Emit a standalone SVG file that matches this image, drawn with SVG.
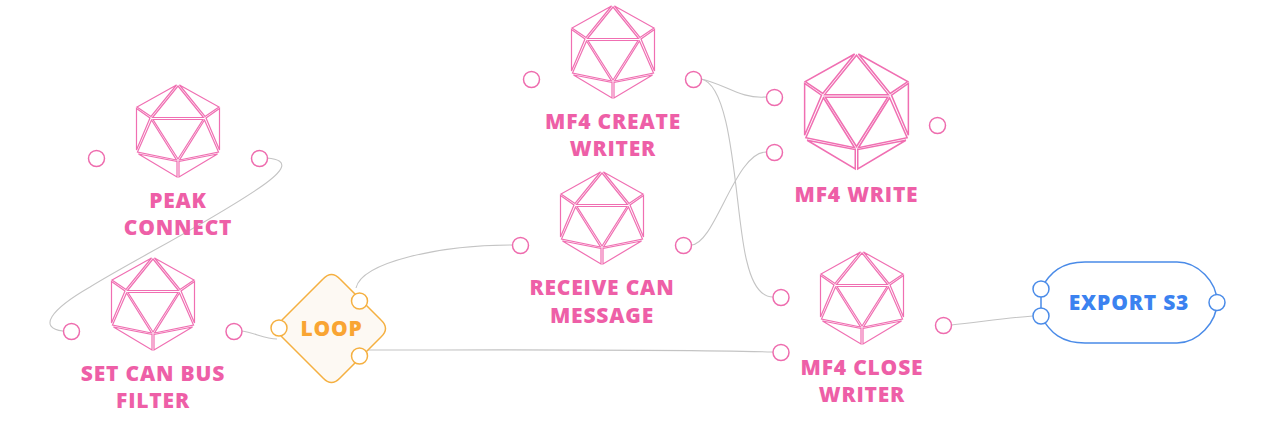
<svg xmlns="http://www.w3.org/2000/svg" width="1288" height="430" viewBox="0 0 1288 430">
<style>
.bg{fill:#fff}
.t{font-family:"Open Sans","DejaVu Sans",sans-serif;font-weight:800;font-size:21px;letter-spacing:0.8px;text-anchor:middle}
.pk{fill:#ee5fa7}.or{fill:#f9a533}.bl{fill:#3b82f0}
.f{fill:none;stroke:#f06fb2;stroke-width:1.2;stroke-linejoin:miter}
.p{fill:#fff;stroke-width:1.5}
.pp{stroke:#ee6cae}.po{stroke:#f5b041}.pb{stroke:#4a8be8}
.c{fill:none;stroke:#c4c4c4;stroke-width:1.1}
</style>
<defs>
<g id="ico">
<polygon class="f" points="0,1 25.500,32.500 -25.500,32.500"/>
<polygon class="f" points="-1.500,0 -27,31.500 -41,22"/>
<polygon class="f" points="1.500,0 27,31.500 41,22"/>
<polygon class="f" points="-41.500,23.500 -28,33 -41.500,65"/>
<polygon class="f" points="41.500,23.500 28,33 41.500,65"/>
<polygon class="f" points="-25,34.500 25,34.500 0,74"/>
<polygon class="f" points="-26.500,35 -1.500,75 -40.500,67"/>
<polygon class="f" points="26.500,35 1.500,75 40.500,67"/>
<polygon class="f" points="-39.500,69 -1,76.500 -1,92"/>
<polygon class="f" points="39.500,69 1,76.500 1,92"/>
</g>
</defs>
<rect class="bg" width="1288" height="430"/>
<g id="connectors">
<path class="c" d="M267,158C292,160 282,172 262,186C210,222 130,262 90,287C50,310 38,328 63,331"/>
<path class="c" d="M242,331C255,333 265,339 277,339"/>
<path class="c" d="M356,288C362,262 440,245 512,245"/>
<path class="c" d="M367,350C480,350 660,349 773,352"/>
<path class="c" d="M701,79C725,84 740,99 766,97"/>
<path class="c" d="M701,79C735,85 735,220 747,262C752,283 760,297 773,297"/>
<path class="c" d="M691,245C715,245 735,152 766,152"/>
<path class="c" d="M951,325C980,322 1005,318 1033,316"/>
</g>
<g id="peak-connect">
<use href="#ico" x="178" y="85"/>
<circle class="p pp" cx="96.500" cy="158.500" r="8"/><circle class="p pp" cx="259.500" cy="158.500" r="8"/>
<text class="t pk" x="178" y="208">PEAK</text><text class="t pk" x="178" y="235">CONNECT</text>
</g>
<g id="set-can-bus-filter">
<use href="#ico" x="153" y="258"/>
<circle class="p pp" cx="71.500" cy="331.500" r="8"/><circle class="p pp" cx="234" cy="331.500" r="8"/>
<text class="t pk" x="153" y="381">SET CAN BUS</text><text class="t pk" x="153" y="408">FILTER</text>
</g>
<g id="loop">
<path d="M323,279Q331.500,270 340,279L381,320Q390,328.500 381,337L340,378Q331.500,387 323,378L282,337Q273,328.500 282,320Z" fill="#fdf9f3" stroke="#f5b041" stroke-width="1.5"/>
<circle class="p po" cx="279" cy="328" r="8"/><circle class="p po" cx="359.500" cy="301" r="8"/><circle class="p po" cx="359.500" cy="356" r="8"/>
<text class="t or" x="331.500" y="336">LOOP</text>
</g>
<g id="mf4-create-writer">
<use href="#ico" x="613" y="6"/>
<circle class="p pp" cx="531.500" cy="79.500" r="8"/><circle class="p pp" cx="693.500" cy="79.500" r="8"/>
<text class="t pk" x="613" y="129">MF4 CREATE</text><text class="t pk" x="613" y="156">WRITER</text>
</g>
<g id="receive-can-message">
<use href="#ico" x="602" y="172"/>
<circle class="p pp" cx="520.500" cy="245.500" r="8"/><circle class="p pp" cx="683.500" cy="245.500" r="8"/>
<text class="t pk" x="602" y="295">RECEIVE CAN</text><text class="t pk" x="602" y="323">MESSAGE</text>
</g>
<g id="mf4-write">
<use href="#ico" transform="translate(856.500 54) scale(1.25)"/>
<circle class="p pp" cx="774.500" cy="97.500" r="8"/><circle class="p pp" cx="774.500" cy="152.500" r="8"/><circle class="p pp" cx="937.500" cy="125.500" r="8"/>
<text class="t pk" x="856.500" y="202">MF4 WRITE</text>
</g>
<g id="mf4-close-writer">
<use href="#ico" x="862" y="252"/>
<circle class="p pp" cx="781" cy="297.500" r="8"/><circle class="p pp" cx="781" cy="352.500" r="8"/><circle class="p pp" cx="943.500" cy="325.500" r="8"/>
<text class="t pk" x="862" y="375">MF4 CLOSE</text><text class="t pk" x="862" y="402">WRITER</text>
</g>
<g id="export-s3">
<path d="M1041,289V316C1050,333 1062,343 1085,343H1177C1198,343 1217,322 1217,302C1217,282 1198,262 1177,262H1085C1062,262 1050,272 1041,289Z" fill="#fff" stroke="#4a8be8" stroke-width="1.5"/>
<circle class="p pb" cx="1041" cy="289" r="8"/><circle class="p pb" cx="1041" cy="316" r="8"/><circle class="p pb" cx="1217" cy="302.500" r="8"/>
<text class="t bl" x="1129" y="310">EXPORT S3</text>
</g>
</svg>
